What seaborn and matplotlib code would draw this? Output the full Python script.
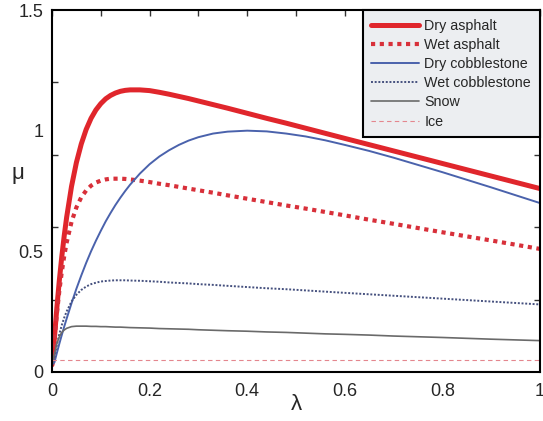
import seaborn as sns
import matplotlib
matplotlib.use('Agg')
import matplotlib.pyplot as plt
import matplotlib.ticker as ticker
import pandas as pd


# slip ratio (lambda) and friction coefficient (mu)
lam = [0.0, 0.005, 0.01, 0.015, 0.02, 0.025, 0.03, 0.04, 0.05, 0.06, 0.07,
       0.08, 0.09, 0.10, 0.11, 0.12, 0.13, 0.14, 0.15, 0.16, 0.18, 0.20,
       0.22, 0.24, 0.26, 0.28, 0.30, 0.33, 0.36, 0.40, 0.44, 0.48, 0.52,
       0.56, 0.60, 0.65, 0.70, 0.80, 0.90, 1.00]

dry_asphalt = [0.03, 0.142, 0.268, 0.379, 0.477, 0.564, 0.641, 0.769, 0.868,
               0.945, 1.005, 1.051, 1.086, 1.112, 1.132, 1.146, 1.156, 1.163,
               1.167, 1.169, 1.169, 1.166, 1.159, 1.151, 1.142, 1.133, 1.123,
               1.108, 1.093, 1.072, 1.051, 1.031, 1.010, 0.989, 0.968, 0.942,
               0.916, 0.864, 0.812, 0.760]
wet_asphalt = [0.03, 0.132, 0.242, 0.336, 0.414, 0.480, 0.536, 0.622, 0.682,
               0.724, 0.752, 0.772, 0.785, 0.793, 0.798, 0.801, 0.801, 0.801,
               0.800, 0.798, 0.793, 0.787, 0.780, 0.774, 0.767, 0.760, 0.753,
               0.743, 0.732, 0.718, 0.704, 0.690, 0.677, 0.663, 0.649, 0.631,
               0.614, 0.579, 0.545, 0.510]
dry_cobblestone = [0.03, 0.040, 0.079, 0.117, 0.153, 0.188, 0.221, 0.285,
                   0.345, 0.400, 0.452, 0.500, 0.544, 0.585, 0.624, 0.659,
                   0.692, 0.722, 0.750, 0.776, 0.822, 0.861, 0.893, 0.919,
                   0.941, 0.959, 0.973, 0.988, 0.996, 1.000, 0.997, 0.988,
                   0.976, 0.960, 0.941, 0.916, 0.888, 0.828, 0.765, 0.700]
wet_cobblestone = [0.03, 0.062, 0.113, 0.157, 0.194, 0.225, 0.251, 0.292,
                   0.320, 0.340, 0.354, 0.364, 0.370, 0.375, 0.377, 0.379,
                   0.380, 0.380, 0.380, 0.379, 0.378, 0.376, 0.374, 0.371,
                   0.369, 0.367, 0.364, 0.361, 0.357, 0.352, 0.347, 0.343,
                   0.338, 0.333, 0.328, 0.322, 0.316, 0.304, 0.292, 0.280]
snow = [0.03, 0.073, 0.118, 0.146, 0.164, 0.174, 0.181, 0.188, 0.190, 0.190,
        0.190, 0.189, 0.189, 0.188, 0.188, 0.187, 0.186, 0.186, 0.185, 0.184,
        0.183, 0.182, 0.180, 0.179, 0.178, 0.177, 0.175, 0.173, 0.171, 0.169,
        0.166, 0.164, 0.161, 0.158, 0.156, 0.153, 0.149, 0.143, 0.136, 0.130]
ice = [0.05, 0.05, 0.05, 0.05, 0.05, 0.05, 0.05, 0.05, 0.05, 0.05, 0.05,
       0.05, 0.05, 0.05, 0.05, 0.05, 0.05, 0.05, 0.05, 0.05, 0.05, 0.05,
       0.05, 0.05, 0.05, 0.05, 0.05, 0.05, 0.05, 0.05, 0.05, 0.05, 0.05,
       0.05, 0.05, 0.05, 0.05, 0.05, 0.05, 0.05]

surfaces = ['Dry asphalt', 'Wet asphalt', 'Dry cobblestone',
            'Wet cobblestone', 'Snow', 'Ice']
x_ticklabels = ['0', '0.2', '0.4', '0.6', '0.8', '1']
y_ticklabels = ['0', '0.5', '1', '1.5']


sns.set_style('white')
plt.rcParams['font.family'] = ['Liberation Sans', 'DejaVu Sans']

series = [dry_asphalt, wet_asphalt, dry_cobblestone, wet_cobblestone,
          snow, ice]
df = pd.concat([pd.DataFrame({'lambda': lam, 'mu': mu, 'surface': name})
                for name, mu in zip(surfaces, series)], ignore_index=True)

styles = {
    'Dry asphalt': dict(color='#e0262c', linewidth=3.6, linestyle='-'),
    'Wet asphalt': dict(color='#d8303a', linewidth=3.0, linestyle=(0, (1, 1.1))),
    'Dry cobblestone': dict(color='#4a62ac', linewidth=1.4, linestyle='-'),
    'Wet cobblestone': dict(color='#45507e', linewidth=1.4,
                            linestyle=(0, (1, 0.9))),
    'Snow': dict(color='#6a6a6a', linewidth=1.2, linestyle='-'),
    'Ice': dict(color='#e4868e', linewidth=0.8, linestyle=(0, (4, 3))),
}

fig = plt.figure(figsize=(5.43, 4.21), dpi=100)
ax = fig.add_axes([52 / 543, 49 / 421, 488 / 543, 362 / 421])

for name in surfaces:
    sns.lineplot(data=df[df['surface'] == name], x='lambda', y='mu', ax=ax,
                 label=name, dash_capstyle='butt', **styles[name])

ax.set(xlim=(0, 1), ylim=(0, 1.5))
ax.xaxis.set_major_locator(ticker.FixedLocator([0, 0.2, 0.4, 0.6, 0.8, 1.0]))
ax.xaxis.set_minor_locator(ticker.MultipleLocator(0.1))
ax.set_xticklabels(x_ticklabels)
ax.set_yticks([0, 0.5, 1.0, 1.5])
ax.set_yticklabels(y_ticklabels)
ax.yaxis.set_minor_locator(ticker.FixedLocator([0.3, 0.6, 0.9, 1.2]))

ax.tick_params(axis='x', which='both', direction='in', top=True, length=4,
               width=1, labelsize=13, pad=8, color='#333333')
ax.tick_params(axis='y', which='major', length=0, labelsize=13, pad=6)
ax.tick_params(axis='y', which='minor', direction='in', right=True, left=True,
               length=4, width=1, color='#333333')
for spine in ax.spines.values():
    spine.set_color('black')
    spine.set_linewidth(1.5)

ax.set_xlabel('λ', fontsize=16)
ax.set_ylabel('μ', fontsize=16, rotation=0)
ax.xaxis.set_label_coords(0.5, -0.06)
ax.yaxis.set_label_coords(-0.07, 0.52)

leg = ax.legend(loc='upper right', bbox_to_anchor=(1.0, 1.0),
                borderaxespad=0, fancybox=False, framealpha=1, fontsize=10.3,
                handlelength=3.3, handletextpad=0.4, labelspacing=0.36,
                borderpad=0.62)
leg.get_frame().set_edgecolor('black')
leg.get_frame().set_linewidth(1.5)
leg.get_frame().set_facecolor('#eceef1')

fig.savefig('out.png', dpi=100)
